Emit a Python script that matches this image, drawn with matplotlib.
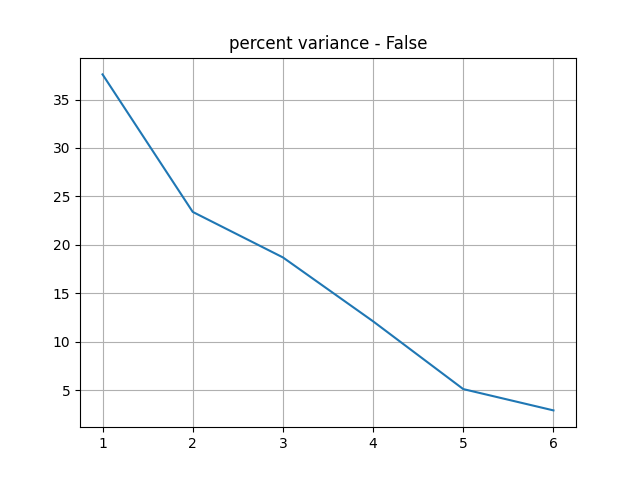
import matplotlib
matplotlib.use("Agg")
import matplotlib.pyplot as plt

components = [1, 2, 3, 4, 5, 6]
percent_variance = [37.6, 23.4, 18.7, 12.1, 5.1, 2.9]

fig, ax = plt.subplots(figsize=(6.4, 4.8), dpi=100)
ax.plot(components, percent_variance)
ax.set_title("percent variance - False")
ax.grid(True)
fig.savefig("out.png")
